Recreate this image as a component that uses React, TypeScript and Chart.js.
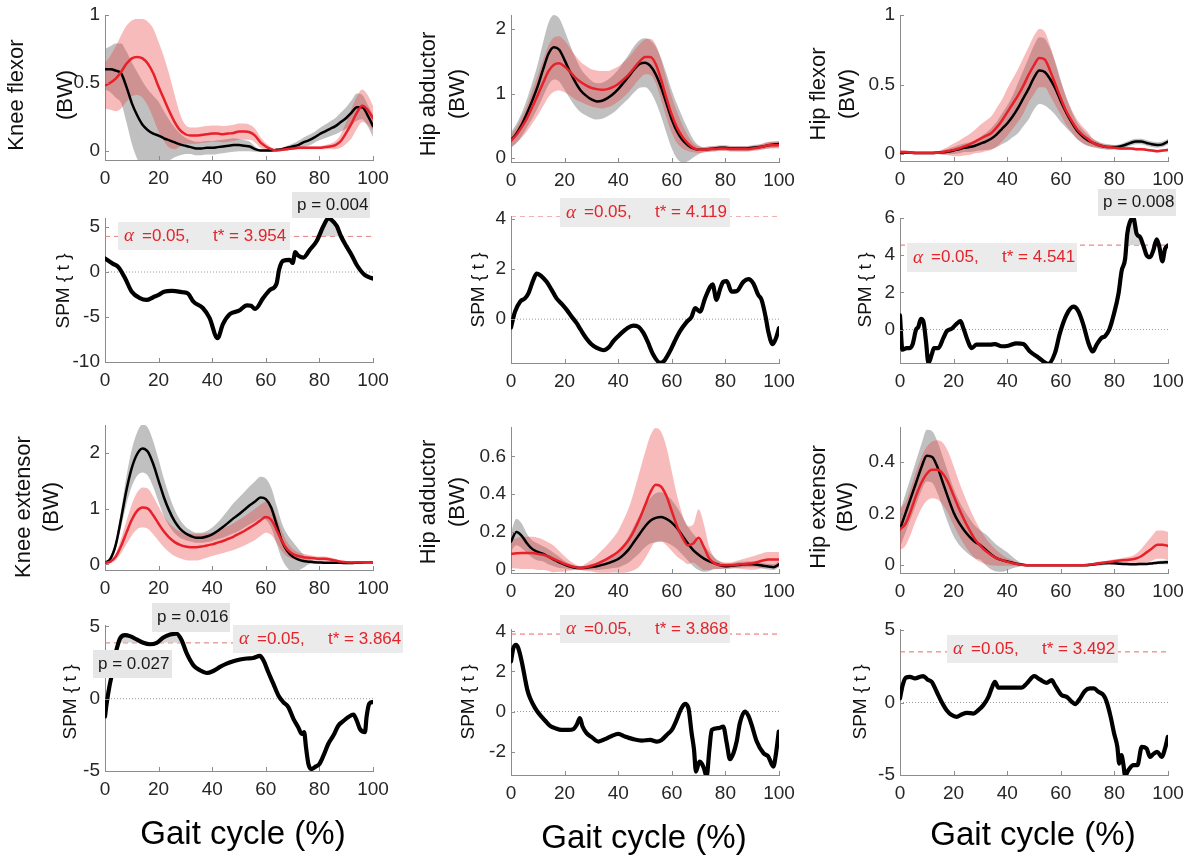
import React, { useEffect, useRef } from 'react';
import { Chart, registerables } from 'chart.js';

Chart.register(...registerables);

// ---------------- data ----------------
const GAIT = [0, 2, 4, 6, 8, 10, 12, 14, 16, 18, 20, 22, 24, 26, 28, 30, 32, 34, 36, 38, 40, 42, 44, 46, 48, 50, 52, 54, 56, 58, 60, 62, 64, 66, 68, 70, 72, 74, 76, 78, 80, 82, 84, 86, 88, 90, 92, 94, 96, 98, 100];
const X_TICKS = [0, 20, 40, 60, 80, 100];
const X_TICK_LABELS = ['0', '20', '40', '60', '80', '100'];

// Knee flexor (BW)
const kneeFlexorAMean = [0.60, 0.60, 0.59, 0.57, 0.47, 0.35, 0.26, 0.19, 0.15, 0.125, 0.11, 0.09, 0.075, 0.06, 0.045, 0.035, 0.025, 0.015, 0.015, 0.02, 0.02, 0.025, 0.03, 0.035, 0.04, 0.04, 0.035, 0.03, 0.01, 0.0, 0.0, 0.0, 0.005, 0.01, 0.02, 0.03, 0.04, 0.06, 0.075, 0.095, 0.12, 0.14, 0.16, 0.18, 0.21, 0.24, 0.28, 0.32, 0.32, 0.26, 0.18];
const kneeFlexorASd = [0.15, 0.17, 0.2, 0.22, 0.26, 0.3, 0.32, 0.32, 0.3, 0.28, 0.25, 0.2, 0.15, 0.11, 0.08, 0.06, 0.05, 0.05, 0.05, 0.05, 0.05, 0.05, 0.05, 0.05, 0.05, 0.045, 0.04, 0.035, 0.02, 0.01, 0.01, 0.01, 0.01, 0.01, 0.015, 0.02, 0.03, 0.035, 0.04, 0.04, 0.045, 0.05, 0.055, 0.06, 0.07, 0.08, 0.09, 0.1, 0.09, 0.08, 0.08];
const kneeFlexorBMean = [0.48, 0.5, 0.53, 0.58, 0.64, 0.68, 0.69, 0.68, 0.64, 0.57, 0.47, 0.38, 0.29, 0.21, 0.15, 0.12, 0.11, 0.11, 0.115, 0.12, 0.125, 0.125, 0.12, 0.125, 0.13, 0.14, 0.14, 0.135, 0.11, 0.06, 0.03, 0.01, 0.0, 0.005, 0.01, 0.015, 0.02, 0.02, 0.02, 0.02, 0.02, 0.025, 0.03, 0.04, 0.07, 0.13, 0.2, 0.28, 0.33, 0.3, 0.24];
const kneeFlexorBSd = [0.17, 0.2, 0.24, 0.27, 0.28, 0.28, 0.28, 0.29, 0.31, 0.33, 0.33, 0.31, 0.27, 0.2, 0.12, 0.07, 0.06, 0.06, 0.06, 0.06, 0.06, 0.06, 0.06, 0.06, 0.06, 0.06, 0.06, 0.055, 0.05, 0.04, 0.025, 0.015, 0.01, 0.01, 0.01, 0.01, 0.01, 0.01, 0.01, 0.01, 0.01, 0.015, 0.02, 0.03, 0.05, 0.08, 0.11, 0.12, 0.12, 0.11, 0.09];

// Hip abductor (BW)
const hipAbdAMean = [0.28, 0.38, 0.52, 0.7, 0.9, 1.12, 1.38, 1.62, 1.72, 1.68, 1.52, 1.34, 1.18, 1.05, 0.97, 0.91, 0.88, 0.89, 0.93, 0.99, 1.07, 1.17, 1.27, 1.38, 1.46, 1.48, 1.43, 1.3, 1.1, 0.85, 0.6, 0.41, 0.28, 0.2, 0.15, 0.13, 0.13, 0.14, 0.15, 0.16, 0.16, 0.15, 0.15, 0.15, 0.15, 0.16, 0.17, 0.18, 0.2, 0.21, 0.22];
const hipAbdASd = [0.12, 0.15, 0.18, 0.22, 0.28, 0.34, 0.42, 0.48, 0.5, 0.49, 0.46, 0.42, 0.38, 0.34, 0.31, 0.29, 0.28, 0.28, 0.28, 0.29, 0.3, 0.32, 0.34, 0.36, 0.37, 0.38, 0.4, 0.43, 0.45, 0.46, 0.45, 0.42, 0.35, 0.25, 0.14, 0.07, 0.04, 0.04, 0.04, 0.04, 0.04, 0.04, 0.04, 0.04, 0.04, 0.04, 0.04, 0.04, 0.05, 0.05, 0.05];
const hipAbdBMean = [0.27, 0.36, 0.48, 0.62, 0.8, 0.98, 1.17, 1.35, 1.45, 1.47, 1.42, 1.34, 1.25, 1.18, 1.13, 1.09, 1.07, 1.06, 1.07, 1.1, 1.15, 1.22, 1.3, 1.4, 1.5, 1.57, 1.57, 1.46, 1.22, 0.93, 0.67, 0.47, 0.33, 0.23, 0.16, 0.13, 0.13, 0.14, 0.14, 0.15, 0.15, 0.14, 0.14, 0.14, 0.14, 0.15, 0.16, 0.18, 0.2, 0.2, 0.2];
const hipAbdBSd = [0.1, 0.12, 0.16, 0.2, 0.26, 0.31, 0.36, 0.4, 0.42, 0.42, 0.4, 0.37, 0.34, 0.31, 0.3, 0.29, 0.29, 0.29, 0.28, 0.28, 0.27, 0.27, 0.27, 0.27, 0.27, 0.27, 0.28, 0.3, 0.31, 0.3, 0.28, 0.24, 0.18, 0.12, 0.07, 0.05, 0.04, 0.04, 0.04, 0.04, 0.04, 0.04, 0.04, 0.04, 0.04, 0.04, 0.04, 0.05, 0.05, 0.05, 0.05];

// Hip flexor (BW)
const hipFlexAMean = [0.01, 0.012, 0.01, 0.008, 0.008, 0.008, 0.008, 0.01, 0.012, 0.018, 0.025, 0.035, 0.045, 0.05, 0.06, 0.075, 0.09, 0.11, 0.14, 0.18, 0.22, 0.27, 0.33, 0.4, 0.47, 0.55, 0.6, 0.59, 0.54, 0.47, 0.38, 0.3, 0.23, 0.17, 0.13, 0.1, 0.08, 0.065, 0.055, 0.05, 0.05, 0.055, 0.065, 0.08, 0.09, 0.09, 0.08, 0.07, 0.065, 0.07, 0.09];
const hipFlexASd = [0.01, 0.01, 0.008, 0.008, 0.008, 0.008, 0.008, 0.01, 0.015, 0.02, 0.025, 0.03, 0.03, 0.035, 0.04, 0.05, 0.06, 0.075, 0.09, 0.11, 0.13, 0.15, 0.18, 0.2, 0.22, 0.23, 0.24, 0.24, 0.22, 0.19, 0.15, 0.11, 0.08, 0.06, 0.05, 0.04, 0.03, 0.025, 0.02, 0.02, 0.015, 0.015, 0.02, 0.02, 0.02, 0.02, 0.02, 0.02, 0.02, 0.02, 0.02];
const hipFlexBMean = [0.015, 0.015, 0.01, 0.008, 0.008, 0.008, 0.008, 0.01, 0.015, 0.022, 0.03, 0.04, 0.055, 0.07, 0.09, 0.11, 0.13, 0.15, 0.19, 0.24, 0.3, 0.36, 0.42, 0.49, 0.57, 0.64, 0.69, 0.68, 0.6, 0.5, 0.4, 0.31, 0.24, 0.18, 0.14, 0.11, 0.08, 0.065, 0.055, 0.05, 0.045, 0.04, 0.04, 0.04, 0.035, 0.035, 0.03, 0.025, 0.02, 0.025, 0.03];
const hipFlexBSd = [0.01, 0.01, 0.01, 0.01, 0.01, 0.01, 0.01, 0.01, 0.02, 0.03, 0.045, 0.055, 0.065, 0.075, 0.085, 0.1, 0.11, 0.12, 0.14, 0.15, 0.17, 0.18, 0.19, 0.2, 0.2, 0.21, 0.21, 0.2, 0.18, 0.15, 0.12, 0.1, 0.08, 0.07, 0.06, 0.05, 0.03, 0.02, 0.015, 0.01, 0.01, 0.01, 0.01, 0.01, 0.01, 0.01, 0.01, 0.01, 0.01, 0.01, 0.01];

// Knee extensor (BW)
const kneeExtAMean = [0.03, 0.1, 0.35, 0.82, 1.33, 1.73, 1.98, 2.08, 2.02, 1.8, 1.5, 1.2, 0.96, 0.77, 0.64, 0.56, 0.51, 0.48, 0.48, 0.5, 0.54, 0.6, 0.67, 0.75, 0.83, 0.9, 0.98, 1.06, 1.13, 1.2, 1.17, 1.02, 0.72, 0.42, 0.24, 0.14, 0.09, 0.06, 0.05, 0.04, 0.035, 0.03, 0.03, 0.03, 0.03, 0.025, 0.025, 0.03, 0.035, 0.04, 0.04];
const kneeExtASd = [0.02, 0.04, 0.08, 0.15, 0.25, 0.33, 0.39, 0.43, 0.43, 0.41, 0.38, 0.33, 0.27, 0.21, 0.16, 0.12, 0.1, 0.09, 0.09, 0.1, 0.12, 0.15, 0.19, 0.23, 0.27, 0.3, 0.32, 0.34, 0.36, 0.37, 0.37, 0.36, 0.34, 0.32, 0.3, 0.27, 0.2, 0.12, 0.05, 0.03, 0.02, 0.02, 0.02, 0.02, 0.02, 0.02, 0.02, 0.02, 0.02, 0.02, 0.02];
const kneeExtBMean = [0.03, 0.05, 0.14, 0.33, 0.57, 0.8, 0.96, 1.02, 1.0, 0.88, 0.73, 0.59, 0.48, 0.4, 0.35, 0.32, 0.31, 0.31, 0.32, 0.34, 0.36, 0.39, 0.42, 0.46, 0.5, 0.55, 0.6, 0.66, 0.72, 0.79, 0.85, 0.8, 0.62, 0.42, 0.27, 0.19, 0.15, 0.13, 0.12, 0.11, 0.1, 0.1, 0.09, 0.07, 0.05, 0.04, 0.035, 0.035, 0.04, 0.04, 0.04];
const kneeExtBSd = [0.02, 0.03, 0.06, 0.13, 0.21, 0.28, 0.33, 0.36, 0.36, 0.34, 0.31, 0.28, 0.26, 0.25, 0.24, 0.24, 0.24, 0.24, 0.23, 0.22, 0.21, 0.21, 0.22, 0.23, 0.24, 0.25, 0.26, 0.27, 0.28, 0.28, 0.28, 0.27, 0.23, 0.18, 0.13, 0.09, 0.07, 0.06, 0.05, 0.04, 0.04, 0.04, 0.035, 0.03, 0.02, 0.02, 0.02, 0.02, 0.02, 0.02, 0.02];

// Hip adductor (BW)
const hipAddAMean = [0.15, 0.2, 0.18, 0.14, 0.11, 0.095, 0.085, 0.07, 0.055, 0.04, 0.028, 0.018, 0.012, 0.01, 0.012, 0.016, 0.02, 0.027, 0.035, 0.045, 0.058, 0.08, 0.11, 0.15, 0.19, 0.23, 0.26, 0.275, 0.28, 0.27, 0.25, 0.22, 0.18, 0.14, 0.105, 0.08, 0.06, 0.045, 0.035, 0.025, 0.02, 0.022, 0.025, 0.028, 0.03, 0.03, 0.028, 0.022, 0.018, 0.015, 0.03];
const hipAddASd = [0.05, 0.07, 0.065, 0.05, 0.045, 0.045, 0.04, 0.04, 0.035, 0.03, 0.02, 0.015, 0.01, 0.01, 0.012, 0.015, 0.02, 0.025, 0.03, 0.035, 0.045, 0.055, 0.07, 0.085, 0.1, 0.11, 0.12, 0.13, 0.13, 0.125, 0.12, 0.11, 0.1, 0.09, 0.085, 0.08, 0.07, 0.05, 0.03, 0.02, 0.015, 0.015, 0.015, 0.015, 0.015, 0.015, 0.015, 0.015, 0.015, 0.015, 0.015];
const hipAddBMean = [0.085, 0.088, 0.09, 0.09, 0.09, 0.085, 0.08, 0.07, 0.058, 0.045, 0.032, 0.022, 0.015, 0.01, 0.014, 0.022, 0.032, 0.045, 0.06, 0.077, 0.097, 0.125, 0.16, 0.21, 0.27, 0.34, 0.41, 0.45, 0.44, 0.39, 0.31, 0.23, 0.17, 0.13, 0.14, 0.17, 0.12, 0.06, 0.035, 0.025, 0.025, 0.025, 0.028, 0.03, 0.033, 0.036, 0.042, 0.05, 0.055, 0.055, 0.055];
const hipAddBSd = [0.075, 0.08, 0.085, 0.085, 0.085, 0.085, 0.08, 0.075, 0.07, 0.055, 0.04, 0.025, 0.015, 0.01, 0.02, 0.03, 0.045, 0.06, 0.075, 0.09, 0.11, 0.14, 0.17, 0.21, 0.25, 0.28, 0.3, 0.3, 0.29, 0.26, 0.21, 0.16, 0.12, 0.1, 0.1, 0.15, 0.12, 0.06, 0.03, 0.02, 0.015, 0.015, 0.02, 0.025, 0.03, 0.035, 0.038, 0.04, 0.04, 0.04, 0.04];

// Hip extensor (BW)
const hipExtAMean = [0.14, 0.2, 0.26, 0.32, 0.38, 0.425, 0.42, 0.38, 0.32, 0.26, 0.205, 0.165, 0.135, 0.11, 0.09, 0.078, 0.06, 0.042, 0.028, 0.02, 0.015, 0.01, 0.005, 0.002, 0, 0, 0, 0, 0, 0, 0, 0, 0, 0, 0, 0, 0.003, 0.006, 0.008, 0.009, 0.008, 0.006, 0.005, 0.004, 0.004, 0.005, 0.005, 0.007, 0.01, 0.011, 0.012];
const hipExtASd = [0.07, 0.075, 0.08, 0.085, 0.09, 0.1, 0.1, 0.1, 0.1, 0.098, 0.093, 0.085, 0.077, 0.07, 0.063, 0.057, 0.06, 0.058, 0.052, 0.045, 0.035, 0.022, 0.012, 0.003, 0, 0, 0, 0, 0, 0, 0, 0, 0, 0, 0, 0.003, 0.006, 0.008, 0.008, 0.007, 0.006, 0.005, 0.005, 0.005, 0.005, 0.005, 0.005, 0.005, 0.006, 0.007, 0.008];
const hipExtBMean = [0.14, 0.16, 0.21, 0.27, 0.32, 0.355, 0.37, 0.37, 0.355, 0.32, 0.27, 0.22, 0.175, 0.135, 0.1, 0.075, 0.055, 0.04, 0.028, 0.02, 0.013, 0.008, 0.004, 0.001, 0, 0, 0, 0, 0, 0, 0, 0, 0, 0, 0, 0.002, 0.004, 0.007, 0.01, 0.013, 0.016, 0.018, 0.02, 0.022, 0.026, 0.035, 0.05, 0.065, 0.08, 0.08, 0.075];
const hipExtBSd = [0.08, 0.085, 0.09, 0.095, 0.1, 0.105, 0.11, 0.115, 0.12, 0.12, 0.115, 0.105, 0.095, 0.085, 0.075, 0.062, 0.05, 0.04, 0.03, 0.022, 0.015, 0.01, 0.005, 0.002, 0, 0, 0, 0, 0, 0, 0, 0, 0, 0, 0, 0.002, 0.004, 0.005, 0.005, 0.006, 0.007, 0.008, 0.01, 0.012, 0.018, 0.028, 0.038, 0.048, 0.055, 0.055, 0.055];

// SPM{t} curves (gait %, t value)
const spmKneeFlexorX = [0, 3, 5, 7.5, 10, 13, 15.5, 18, 20, 22, 25, 29, 31, 33, 36.5, 39, 42, 44, 46.5, 50, 53, 54.5, 56, 59, 61.5, 64, 65, 66.5, 69, 70, 71, 72, 74, 76.5, 79, 81.5, 83.3, 84.5, 86.5, 88, 90, 92, 94, 97, 100];
const spmKneeFlexorT = [1.5, 0.9, 0.55, -0.7, -2.2, -2.9, -3.1, -2.8, -2.55, -2.2, -2.1, -2.25, -2.4, -3.3, -4.0, -5.1, -7.35, -5.8, -4.7, -4.3, -3.7, -3.75, -4.1, -2.9, -2.0, -1.3, 0.3, 1.25, 1.35, 1.0, 2.2, 1.85, 1.6, 2.5, 3.45, 5.1, 5.95, 5.8, 5.1, 4.0, 2.9, 1.9, 0.75, -0.36, -0.73];

const spmHipAbdX = [0, 1.5, 3.4, 5.2, 6.5, 8.3, 9.6, 11.5, 13.3, 15, 17, 19, 20.8, 22.5, 24.5, 26, 28, 30, 32, 34.5, 36.5, 38.2, 40, 41.9, 43.5, 45.6, 47.5, 49.4, 51, 53, 55.6, 57, 59.3, 61, 63, 65.5, 67.4, 68.7, 70.5, 72.4, 74.3, 75.2, 76.7, 78, 79.2, 80.5, 82.3, 84.2, 86.7, 88.6, 90.4, 92.3, 93.5, 95, 96, 97.6, 98.9, 100];
const spmHipAbdT = [-0.33, 0.3, 0.7, 0.83, 1.03, 1.56, 1.82, 1.7, 1.49, 1.2, 0.83, 0.6, 0.37, 0.12, -0.16, -0.42, -0.75, -1.0, -1.15, -1.24, -1.12, -0.88, -0.68, -0.49, -0.35, -0.26, -0.3, -0.55, -0.9, -1.4, -1.74, -1.68, -1.28, -0.9, -0.49, -0.12, 0.1, 0.44, 0.3, 0.83, 1.29, 1.39, 0.77, 1.2, 1.49, 1.52, 1.1, 1.12, 1.49, 1.6, 1.43, 0.96, 0.77, 0.1, -0.49, -1.0, -0.75, -0.36];

const spmHipFlexX = [0, 0.9, 2.5, 3.7, 4.7, 6, 6.8, 7.8, 8.7, 9.7, 10.6, 11.8, 12.7, 14.3, 16.2, 17.4, 19.3, 21.1, 22.6, 23.6, 24.9, 26.7, 28.6, 30.5, 33.6, 35.4, 37.9, 40.4, 43.5, 46, 48.5, 51.6, 55.3, 57.8, 59.7, 62.2, 64.7, 66.5, 68.4, 70.3, 71.9, 73.4, 75.2, 76.5, 78.1, 79.6, 81.5, 82.7, 84, 84.8, 85.8, 87.1, 88.3, 89.6, 90.8, 92, 93.3, 94.5, 95.8, 96.8, 97.9, 98.9, 100];
const spmHipFlexT = [0.76, -1.08, -1.0, -1.0, -0.8, 0.0, 0.13, 0.58, 0.45, -0.63, -1.8, -1.36, -1.0, -1.0, -0.45, -0.1, 0.05, 0.3, 0.45, 0.1, -0.45, -1.0, -0.81, -0.81, -0.81, -0.78, -0.9, -0.87, -0.74, -0.78, -1.18, -1.5, -1.84, -1.27, -0.18, 0.81, 1.23, 1.0, 0.27, -0.72, -1.18, -0.81, -0.45, -0.36, 0.0, 0.72, 1.9, 3.16, 3.8, 5.15, 5.79, 6.0, 5.15, 4.97, 4.52, 4.0, 3.89, 4.25, 4.85, 4.43, 3.67, 4.34, 4.52];

const spmKneeExtX = [0, 0.6, 1.6, 2.9, 3.7, 4.4, 5.6, 7.5, 9.3, 11.8, 14.3, 16.8, 19.3, 21.8, 24.3, 26.7, 28.6, 30.5, 33, 35.4, 37.9, 40.4, 42.9, 45.4, 47.9, 50.4, 52.9, 55.3, 57.8, 59.1, 60.9, 62.8, 64.7, 66.5, 68.4, 70.3, 72.1, 73.4, 74.3, 75, 75.9, 77.1, 78.7, 80, 81.5, 83.3, 85.2, 87.1, 88.9, 90.8, 92.7, 93.9, 95.1, 97, 97.6, 98.6, 99.9];
const spmKneeExtT = [-1.23, -0.35, 0.81, 1.97, 2.9, 3.47, 4.17, 4.4, 4.33, 4.1, 3.87, 3.77, 3.87, 4.24, 4.44, 4.51, 4.05, 3.13, 2.31, 1.97, 1.78, 1.92, 2.2, 2.43, 2.59, 2.71, 2.78, 2.82, 2.96, 2.66, 1.85, 1.04, 0.23, -0.23, -0.58, -1.39, -1.97, -2.43, -2.31, -3.36, -4.51, -4.86, -4.68, -4.51, -3.94, -3.13, -2.55, -1.85, -1.55, -1.27, -1.09, -1.5, -2.08, -2.31, -1.27, -0.35, -0.23];

const spmHipAddX = [0, 0.9, 1.9, 2.7, 4, 5.2, 6.1, 7.1, 9, 10.8, 12.7, 14.6, 16.4, 18.9, 21.4, 23.3, 24.5, 25.7, 26.7, 28.2, 30.1, 32.6, 35.1, 37.6, 40, 42.5, 45.6, 48.8, 51.9, 54.4, 56.2, 58.1, 60, 61.8, 63.3, 64.9, 66.2, 67.4, 68.3, 69, 70.3, 71.1, 72, 73, 74, 74.9, 77.4, 79.2, 80.5, 81.7, 83, 84.2, 85.4, 87.3, 88.6, 89.8, 91.7, 94.2, 96, 97.9, 98.9, 99.9];
const spmHipAddT = [2.5, 3.17, 3.33, 3.17, 2.5, 1.67, 1.08, 0.67, 0.17, -0.17, -0.45, -0.72, -0.83, -0.92, -0.92, -0.88, -0.67, -0.33, -0.75, -1.08, -1.28, -1.5, -1.38, -1.22, -1.12, -1.25, -1.38, -1.45, -1.42, -1.5, -1.42, -1.17, -0.92, -0.42, 0.08, 0.38, 0.17, -1.08, -1.92, -3.0, -2.5, -2.58, -2.83, -3.25, -1.92, -0.92, -0.83, -0.75, -1.58, -2.38, -2.08, -1.5, -0.58, 0.0, -0.22, -0.67, -1.5, -2.08, -2.25, -2.75, -2.08, -1.0];

const spmHipExtX = [0, 1, 2.2, 3.7, 5.6, 7.5, 8.7, 10.2, 11.8, 13.7, 15.5, 17.4, 19.3, 21.1, 23, 24.9, 27.4, 29.2, 31.1, 33, 34.2, 35.4, 36.7, 38.6, 41.7, 45.4, 47.3, 50.1, 52.2, 54.7, 56.6, 57.8, 60.3, 62.2, 64.1, 65.3, 67.2, 69, 70.9, 72.4, 74, 75.9, 77.1, 78.6, 79.9, 81.1, 81.8, 82.6, 83.3, 84, 85.2, 87.1, 88.6, 90.2, 92, 93.3, 94.5, 96, 97.6, 98.9, 99.9];
const spmHipExtT = [0.28, 1.2, 1.72, 1.77, 1.66, 1.77, 1.82, 1.59, 1.43, 0.74, 0.05, -0.53, -0.87, -0.99, -0.83, -0.71, -0.76, -0.53, -0.18, 0.39, 0.97, 1.43, 1.03, 1.03, 1.03, 1.03, 1.31, 1.82, 1.59, 1.36, 1.54, 1.2, 0.51, 0.39, 0.05, -0.11, 0.28, 0.8, 0.97, 0.97, 0.74, 0.51, 0.05, -0.99, -2.14, -3.06, -4.21, -3.63, -4.2, -5.05, -4.67, -4.32, -4.32, -3.06, -3.17, -3.75, -3.56, -3.4, -3.75, -3.17, -2.37];

// critical thresholds t*
const THRESHOLDS = [3.954, 4.119, 4.541, 3.864, 3.868, 3.492];
const THRESHOLD_LABELS = ['3.954', '4.119', '4.541', '3.864', '3.868', '3.492'];

// y ticks
const KF_TICKS = [0, 0.5, 1]; const KF_LABELS = ['0', '0.5', '1'];
const HAB_TICKS = [0, 1, 2]; const HAB_LABELS = ['0', '1', '2'];
const HF_TICKS = [0, 0.5, 1]; const HF_LABELS = ['0', '0.5', '1'];
const KE_TICKS = [0, 1, 2]; const KE_LABELS = ['0', '1', '2'];
const HAD_TICKS = [0, 0.2, 0.4, 0.6]; const HAD_LABELS = ['0', '0.2', '0.4', '0.6'];
const HE_TICKS = [0, 0.2, 0.4]; const HE_LABELS = ['0', '0.2', '0.4'];
const SPM_KF_TICKS = [-10, -5, 0, 5]; const SPM_KF_LABELS = ['-10', '-5', '0', '5'];
const SPM_HAB_TICKS = [0, 2, 4]; const SPM_HAB_LABELS = ['0', '2', '4'];
const SPM_HF_TICKS = [0, 2, 4, 6]; const SPM_HF_LABELS = ['0', '2', '4', '6'];
const SPM_KE_TICKS = [-5, 0, 5]; const SPM_KE_LABELS = ['-5', '0', '5'];
const SPM_HAD_TICKS = [-2, 0, 2, 4]; const SPM_HAD_LABELS = ['-2', '0', '2', '4'];
const SPM_HE_TICKS = [-5, 0, 5]; const SPM_HE_LABELS = ['-5', '0', '5'];

// ---------------- style ----------------
const FONT = "'Liberation Sans', Arial, Helvetica, sans-serif";
const SERIF = "'Liberation Serif', 'Times New Roman', serif";
const AXIS = '#8c8c8c';
const TICK_TEXT = '#262626';
const RED = '#e8202a';
const RED_BAND = 'rgba(235, 60, 60, 0.35)';
const GRAY_BAND = 'rgba(140, 140, 140, 0.55)';
const CLUSTER = '#d6d6d6';
const THR_LINE = '#e56a6a';
const THR_TEXT = '#e3242b';
const BOX_BG = '#ebebeb';

const W_AXIS = 130;
const PAD_TOP = 40;
const PAD_RIGHT = 30;
const X_AXIS_H = 40;

type Box = { l: number; t: number; r: number; b: number };
type TextBox = { text?: string; x: number; y: number; w: number; h: number };
type Panel = {
  box: Box;
  yMin: number; yMax: number; yTicks: number[]; yLabels: string[];
  yTitle: { lines: string[]; xs: number[]; y: number; size: number };
  mean?: { aM: number[]; aS: number[]; bM: number[]; bS: number[] };
  spm?: { xs: number[]; ts: number[]; thr: number; thrText: string };
  thrBox?: TextBox;
  pBoxes?: TextBox[];
  xTitle?: { text: string; x: number; y: number };
  bottomRow?: boolean;
};

const PANELS: Panel[] = [
  {
    box: { l: 105, t: 15, r: 373, b: 160 }, yMin: -0.07, yMax: 1, yTicks: KF_TICKS, yLabels: KF_LABELS,
    yTitle: { lines: ['Knee flexor', '(BW)'], xs: [17, 66], y: 95, size: 22 },
    mean: { aM: kneeFlexorAMean, aS: kneeFlexorASd, bM: kneeFlexorBMean, bS: kneeFlexorBSd },
  },
  {
    box: { l: 511, t: 15, r: 779, b: 162 }, yMin: -0.06, yMax: 2.22, yTicks: HAB_TICKS, yLabels: HAB_LABELS,
    yTitle: { lines: ['Hip abductor', '(BW)'], xs: [429, 457.5], y: 94, size: 22 },
    mean: { aM: hipAbdAMean, aS: hipAbdASd, bM: hipAbdBMean, bS: hipAbdBSd },
  },
  {
    box: { l: 900, t: 15, r: 1168, b: 161 }, yMin: -0.05, yMax: 1, yTicks: HF_TICKS, yLabels: HF_LABELS,
    yTitle: { lines: ['Hip flexor', '(BW)'], xs: [819, 847.5], y: 94, size: 22 },
    mean: { aM: hipFlexAMean, aS: hipFlexASd, bM: hipFlexBMean, bS: hipFlexBSd },
  },
  {
    box: { l: 105, t: 218, r: 373, b: 362 }, yMin: -10, yMax: 6, yTicks: SPM_KF_TICKS, yLabels: SPM_KF_LABELS,
    yTitle: { lines: ['SPM { t }'], xs: [64], y: 291, size: 19 },
    spm: { xs: spmKneeFlexorX, ts: spmKneeFlexorT, thr: THRESHOLDS[0], thrText: THRESHOLD_LABELS[0] },
    thrBox: { x: 118, y: 222, w: 172, h: 28 },
    pBoxes: [{ text: 'p = 0.004', x: 292, y: 192, w: 78, h: 26 }],
  },
  {
    box: { l: 511, t: 216, r: 779, b: 363 }, yMin: -1.75, yMax: 4.12, yTicks: SPM_HAB_TICKS, yLabels: SPM_HAB_LABELS,
    yTitle: { lines: ['SPM { t }'], xs: [479], y: 290, size: 19 },
    spm: { xs: spmHipAbdX, ts: spmHipAbdT, thr: THRESHOLDS[1], thrText: THRESHOLD_LABELS[1] },
    thrBox: { x: 560, y: 198, w: 170, h: 29 },
  },
  {
    box: { l: 900, t: 218, r: 1168, b: 363 }, yMin: -1.8, yMax: 6, yTicks: SPM_HF_TICKS, yLabels: SPM_HF_LABELS,
    yTitle: { lines: ['SPM { t }'], xs: [866], y: 290, size: 19 },
    spm: { xs: spmHipFlexX, ts: spmHipFlexT, thr: THRESHOLDS[2], thrText: THRESHOLD_LABELS[2] },
    thrBox: { x: 907, y: 243, w: 170, h: 29 },
    pBoxes: [{ text: 'p = 0.008', x: 1098, y: 189, w: 78, h: 27 }],
  },
  {
    box: { l: 105, t: 425, r: 373, b: 570 }, yMin: -0.1, yMax: 2.5, yTicks: KE_TICKS, yLabels: KE_LABELS,
    yTitle: { lines: ['Knee extensor', '(BW)'], xs: [24, 52], y: 507, size: 22 },
    mean: { aM: kneeExtAMean, aS: kneeExtASd, bM: kneeExtBMean, bS: kneeExtBSd },
  },
  {
    box: { l: 511, t: 427, r: 779, b: 573 }, yMin: -0.016, yMax: 0.755, yTicks: HAD_TICKS, yLabels: HAD_LABELS,
    yTitle: { lines: ['Hip adductor', '(BW)'], xs: [429, 457.5], y: 502, size: 22 },
    mean: { aM: hipAddAMean, aS: hipAddASd, bM: hipAddBMean, bS: hipAddBSd },
  },
  {
    box: { l: 900, t: 427, r: 1168, b: 573 }, yMin: -0.03, yMax: 0.536, yTicks: HE_TICKS, yLabels: HE_LABELS,
    yTitle: { lines: ['Hip extensor', '(BW)'], xs: [819, 846], y: 507, size: 22 },
    mean: { aM: hipExtAMean, aS: hipExtASd, bM: hipExtBMean, bS: hipExtBSd },
  },
  {
    box: { l: 105, t: 625, r: 373, b: 771 }, yMin: -5, yMax: 5.1, yTicks: SPM_KE_TICKS, yLabels: SPM_KE_LABELS,
    yTitle: { lines: ['SPM { t }'], xs: [71], y: 702, size: 19 },
    spm: { xs: spmKneeExtX, ts: spmKneeExtT, thr: THRESHOLDS[3], thrText: THRESHOLD_LABELS[3] },
    thrBox: { x: 233, y: 625, w: 170, h: 28 },
    pBoxes: [
      { text: 'p = 0.016', x: 152, y: 603, w: 78, h: 29 },
      { text: 'p = 0.027', x: 93, y: 650, w: 79, h: 28 },
    ],
    xTitle: { text: 'Gait cycle (%)', x: 243, y: 835 },
    bottomRow: true,
  },
  {
    box: { l: 511, t: 629, r: 779, b: 775 }, yMin: -3.17, yMax: 4.12, yTicks: SPM_HAD_TICKS, yLabels: SPM_HAD_LABELS,
    yTitle: { lines: ['SPM { t }'], xs: [469], y: 702, size: 19 },
    spm: { xs: spmHipAddX, ts: spmHipAddT, thr: THRESHOLDS[4], thrText: THRESHOLD_LABELS[4] },
    thrBox: { x: 560, y: 615, w: 170, h: 28 },
    xTitle: { text: 'Gait cycle (%)', x: 644, y: 839 },
    bottomRow: true,
  },
  {
    box: { l: 900, t: 629, r: 1168, b: 775 }, yMin: -5, yMax: 5.07, yTicks: SPM_HE_TICKS, yLabels: SPM_HE_LABELS,
    yTitle: { lines: ['SPM { t }'], xs: [861], y: 702, size: 19 },
    spm: { xs: spmHipExtX, ts: spmHipExtT, thr: THRESHOLDS[5], thrText: THRESHOLD_LABELS[5] },
    thrBox: { x: 947, y: 635, w: 171, h: 28 },
    xTitle: { text: 'Gait cycle (%)', x: 1033, y: 836 },
    bottomRow: true,
  },
];

function geom(p: Panel) {
  const xh = p.bottomRow ? 861 - p.box.b : X_AXIS_H;
  return {
    left: p.box.l - W_AXIS,
    top: p.box.t - PAD_TOP,
    w: W_AXIS + (p.box.r - p.box.l) + PAD_RIGHT,
    h: PAD_TOP + (p.box.b - p.box.t) + xh,
    xh,
  };
}

const lineCommon = { pointRadius: 0, cubicInterpolationMode: 'monotone' as const, borderJoinStyle: 'round' as const, borderCapStyle: 'round' as const };

function meanSets(m: NonNullable<Panel['mean']>) {
  const pts = (arr: number[]) => GAIT.map((x, i) => ({ x, y: arr[i] }));
  const up = (a: number[], s: number[]) => GAIT.map((x, i) => ({ x, y: a[i] + s[i] }));
  const lo = (a: number[], s: number[]) => GAIT.map((x, i) => ({ x, y: a[i] - s[i] }));
  return [
    { ...lineCommon, data: pts(m.bM), borderColor: RED, borderWidth: 2.5, fill: false, order: 0 },
    { ...lineCommon, data: pts(m.aM), borderColor: '#000', borderWidth: 2.5, fill: false, order: 1 },
    { ...lineCommon, data: up(m.bM, m.bS), borderWidth: 0, borderColor: 'rgba(0,0,0,0)', backgroundColor: RED_BAND, fill: 3, order: 2 },
    { ...lineCommon, data: lo(m.bM, m.bS), borderWidth: 0, borderColor: 'rgba(0,0,0,0)', fill: false, order: 2 },
    { ...lineCommon, data: up(m.aM, m.aS), borderWidth: 0, borderColor: 'rgba(0,0,0,0)', backgroundColor: GRAY_BAND, fill: 5, order: 3 },
    { ...lineCommon, data: lo(m.aM, m.aS), borderWidth: 0, borderColor: 'rgba(0,0,0,0)', fill: false, order: 3 },
  ];
}

function spmSets(s: NonNullable<Panel['spm']>) {
  const pts = s.xs.map((x, i) => ({ x, y: s.ts[i] }));
  return [
    {
      ...lineCommon, data: pts, borderColor: '#000', borderWidth: 4.2,
      fill: { target: { value: s.thr }, above: CLUSTER, below: 'rgba(0,0,0,0)' }, order: 0,
    },
    { pointRadius: 0, data: [{ x: 0, y: s.thr }, { x: 100, y: s.thr }], borderColor: THR_LINE, borderWidth: 1, borderDash: [5, 4], fill: false, order: 1 },
    { pointRadius: 0, data: [{ x: 0, y: 0 }, { x: 100, y: 0 }], borderColor: '#9a9a9a', borderWidth: 1, borderDash: [1, 2], fill: false, order: 2 },
  ];
}

function decor(p: Panel, g: ReturnType<typeof geom>) {
  return {
    id: 'decor',
    afterDraw(chart: any) {
      const ctx: CanvasRenderingContext2D = chart.ctx;
      const { left, bottom } = chart.chartArea;
      const xs = chart.scales.x;
      const ys = chart.scales.y;
      ctx.save();
      // inward tick marks
      ctx.strokeStyle = AXIS;
      ctx.lineWidth = 1;
      for (const v of X_TICKS) {
        const px = Math.round(xs.getPixelForValue(v)) + 0.5;
        ctx.beginPath(); ctx.moveTo(px, bottom); ctx.lineTo(px, bottom - 4); ctx.stroke();
      }
      for (const v of p.yTicks) {
        const py = Math.round(ys.getPixelForValue(v)) + 0.5;
        ctx.beginPath(); ctx.moveTo(left, py); ctx.lineTo(left + 4, py); ctx.stroke();
      }
      // y title
      ctx.fillStyle = '#111';
      ctx.font = `${p.yTitle.size}px ${FONT}`;
      ctx.textAlign = 'center';
      ctx.textBaseline = 'middle';
      p.yTitle.lines.forEach((line, i) => {
        ctx.save();
        ctx.translate(p.yTitle.xs[i] - g.left, p.yTitle.y - g.top);
        ctx.rotate(-Math.PI / 2);
        ctx.fillText(line, 0, 0);
        ctx.restore();
      });
      // x title
      if (p.xTitle) {
        ctx.fillStyle = '#000';
        ctx.font = `33px ${FONT}`;
        ctx.textAlign = 'center';
        ctx.textBaseline = 'middle';
        ctx.fillText(p.xTitle.text, p.xTitle.x - g.left, p.xTitle.y - g.top);
      }
      // threshold label
      if (p.thrBox && p.spm) {
        const b = p.thrBox;
        const bx = b.x - g.left;
        const by = b.y - g.top;
        ctx.fillStyle = BOX_BG;
        ctx.fillRect(bx, by, b.w, b.h);
        const cy = by + b.h / 2;
        ctx.fillStyle = THR_TEXT;
        ctx.textAlign = 'left';
        ctx.textBaseline = 'middle';
        ctx.font = `italic 19px ${SERIF}`;
        ctx.fillText('\u03b1', bx + 6, cy);
        ctx.font = `17px ${FONT}`;
        ctx.fillText('=0.05,', bx + 24, cy);
        ctx.fillText(`t* = ${p.spm.thrText}`, bx + 95, cy);
      }
      // p-value labels
      (p.pBoxes || []).forEach((b) => {
        const bx = b.x - g.left;
        const by = b.y - g.top;
        ctx.fillStyle = '#e6e6e6';
        ctx.fillRect(bx, by, b.w, b.h);
        ctx.fillStyle = '#1a1a1a';
        ctx.font = `17px ${FONT}`;
        ctx.textAlign = 'left';
        ctx.textBaseline = 'middle';
        ctx.fillText(b.text || '', bx + 5, by + b.h / 2);
      });
      ctx.restore();
    },
  };
}

function buildConfig(p: Panel, g: ReturnType<typeof geom>): any {
  const datasets = p.mean ? meanSets(p.mean) : spmSets(p.spm!);
  const tickFont = { family: FONT, size: 19 };
  return {
    type: 'line',
    data: { datasets },
    options: {
      responsive: false,
      maintainAspectRatio: false,
      animation: false,
      devicePixelRatio: 1,
      events: [],
      layout: { padding: { top: PAD_TOP, right: PAD_RIGHT, left: 0, bottom: 0 } },
      plugins: { legend: { display: false }, tooltip: { enabled: false }, title: { display: false } },
      scales: {
        x: {
          type: 'linear', min: 0, max: 100, bounds: 'data',
          afterBuildTicks: (s: any) => { s.ticks = X_TICKS.map((v) => ({ value: v })); },
          afterFit: (s: any) => { s.height = g.xh; },
          ticks: {
            autoSkip: false, maxRotation: 0, minRotation: 0, padding: 7, color: TICK_TEXT, font: tickFont,
            callback: (v: number) => { const i = X_TICKS.indexOf(v); return i >= 0 ? X_TICK_LABELS[i] : ''; },
          },
          grid: { display: true, drawOnChartArea: false, drawTicks: false },
          border: { display: true, color: AXIS, width: 1 },
        },
        y: {
          type: 'linear', min: p.yMin, max: p.yMax, bounds: 'data',
          afterBuildTicks: (s: any) => { s.ticks = p.yTicks.map((v) => ({ value: v })); },
          afterFit: (s: any) => { s.width = W_AXIS; },
          ticks: {
            autoSkip: false, padding: 5, color: TICK_TEXT, font: tickFont,
            callback: (v: number) => { const i = p.yTicks.indexOf(v); return i >= 0 ? p.yLabels[i] : ''; },
          },
          grid: { display: true, drawOnChartArea: false, drawTicks: false },
          border: { display: true, color: AXIS, width: 1 },
        },
      },
    },
    plugins: [decor(p, g)],
  };
}

function PanelChart({ p }: { p: Panel }) {
  const ref = useRef<HTMLCanvasElement>(null);
  const g = geom(p);
  useEffect(() => {
    if (!ref.current) return;
    const chart = new Chart(ref.current, buildConfig(p, g));
    return () => chart.destroy();
  }, []);
  return (
    <canvas
      ref={ref}
      width={g.w}
      height={g.h}
      style={{ position: 'absolute', left: g.left, top: g.top, width: g.w, height: g.h }}
    />
  );
}

export default function App() {
  return (
    <div style={{ position: 'absolute', left: 0, top: 0, width: 1192, height: 861, overflow: 'hidden', background: '#fff' }}>
      {PANELS.map((p, i) => (
        <PanelChart key={i} p={p} />
      ))}
    </div>
  );
}
